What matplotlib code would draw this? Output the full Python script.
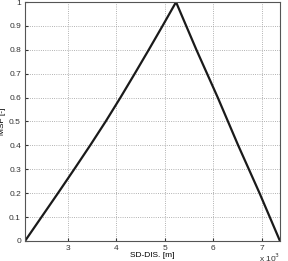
import matplotlib
matplotlib.use("Agg")
import matplotlib.pyplot as plt

# SD distance [m] vs MSF [-]
sd_dis = [2120, 2459, 2798, 3132, 3461, 3780, 4084, 4378, 4667, 4951, 5230,
          5440, 5650, 5870, 6090, 6300, 6510, 6730, 6950, 7160, 7370]
msf = [0.0, 0.1, 0.2, 0.3, 0.4, 0.5, 0.6, 0.7, 0.8, 0.9, 1.0,
       0.9, 0.8, 0.7, 0.6, 0.5, 0.4, 0.3, 0.2, 0.1, 0.0]

x_ticks = [3000, 4000, 5000, 6000, 7000]
x_tick_labels = ["3", "4", "5", "6", "7"]
y_ticks = [0, 0.1, 0.2, 0.3, 0.4, 0.5, 0.6, 0.7, 0.8, 0.9, 1.0]
y_tick_labels = ["0", "0.1", "0.2", "0.3", "0.4", "0.5", "0.6", "0.7", "0.8", "0.9", "1"]

plt.rcParams["font.family"] = ["Liberation Sans", "DejaVu Sans"]

fig = plt.figure(figsize=(2.88, 2.61), dpi=100)
ax = fig.add_axes([0.087, 0.077, 0.885, 0.915])

ax.plot(sd_dis, msf, color="#1a1a1a", linewidth=1.6)

ax.set_xlim(2120, 7370)
ax.set_ylim(0, 1)
ax.set_xticks(x_ticks)
ax.set_xticklabels(x_tick_labels)
ax.set_yticks(y_ticks)
ax.set_yticklabels(y_tick_labels)
ax.tick_params(labelsize=6, length=2, direction="in", pad=3, colors="#333333")
ax.grid(True, linestyle=":", linewidth=0.6, color="#999999")
for s in ax.spines.values():
    s.set_color("#555555")
    s.set_linewidth(0.8)

ax.set_xlabel("SD-DIS. [m]", fontsize=6, labelpad=0)
ax.set_ylabel("MSF [-]", fontsize=6, labelpad=2)
fig.text(0.9, 0.035, r"x 10$^3$", fontsize=6, ha="left", va="top", color="#333333")

fig.savefig("out.png", dpi=100)
